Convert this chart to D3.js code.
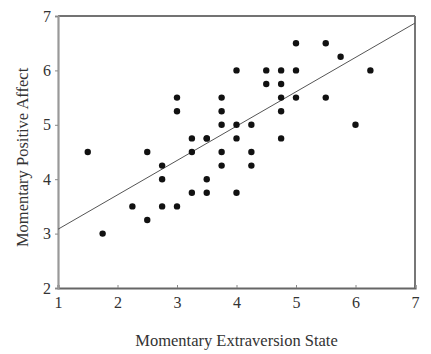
<!DOCTYPE html>
<html>
<head>
<meta charset="utf-8">
<script src="https://cdn.jsdelivr.net/npm/d3@7"></script>
<style>
  body { margin: 0; background: #fff; }
  text { font-family: "Liberation Serif", "DejaVu Serif", serif; fill: #333; }
</style>
</head>
<body>
<div class="chart"></div>
<script>
// extraversion state (x) and positive affect (y), one entry per person
const extraversion = [1.5, 1.75, 2.25, 2.5, 2.5, 2.75, 2.75, 2.75, 3, 3, 3,
  3.25, 3.25, 3.25, 3.5, 3.5, 3.5, 3.5, 3.75, 3.75, 3.75, 3.75, 3.75,
  4, 4, 4, 4, 4.25, 4.25, 4.25, 4.5, 4.5, 4.75, 4.75, 4.75, 4.75, 4.75,
  5, 5, 5, 5.5, 5.5, 5.75, 6, 6.25];
const positiveAffect = [4.5, 3, 3.5, 4.5, 3.25, 4.25, 4, 3.5, 5.5, 5.25, 3.5,
  4.75, 4.5, 3.75, 4.75, 4, 3.75, 4.75, 5.5, 5.25, 5, 4.5, 4.25,
  6, 5, 4.75, 3.75, 5, 4.5, 4.25, 6, 5.75, 6, 5.75, 5.5, 5.25, 4.75,
  6.5, 6, 5.5, 6.5, 5.5, 6.25, 5, 6];
// regression line read at the ends of the x range
const fitX = [1, 7];
const fitY = [3.08, 6.87];
const xTicks = [1, 2, 3, 4, 5, 6, 7];
const yTicks = [2, 3, 4, 5, 6, 7];

const margin = { top: 16, right: 16, bottom: 66, left: 58 };
const w = 431 - margin.left - margin.right;
const h = 354 - margin.top - margin.bottom;

const svg = d3.select(".chart").append("svg")
  .attr("width", 431)
  .attr("height", 354)
  .append("g")
  .attr("transform", "translate(" + margin.left + "," + margin.top + ")");

const x = d3.scaleLinear().domain([1, 7]).range([0, w]);
const y = d3.scaleLinear().domain([2, 7]).range([h, 0]);

// frame: top and right edges
svg.append("line").attr("x1", 0).attr("x2", w).attr("y1", 0).attr("y2", 0)
  .attr("stroke", "#444").attr("stroke-width", 1.3);
svg.append("line").attr("x1", w).attr("x2", w).attr("y1", 0).attr("y2", h)
  .attr("stroke", "#777").attr("stroke-width", 2);

const xAxis = svg.append("g")
  .attr("transform", "translate(0," + h + ")")
  .call(d3.axisBottom(x).tickValues(xTicks).tickFormat(d3.format("d"))
    .tickSize(-3).tickPadding(6));
const yAxis = svg.append("g")
  .call(d3.axisLeft(y).tickValues(yTicks).tickFormat(d3.format("d"))
    .tickSize(3).tickPadding(4));

xAxis.select(".domain").attr("stroke", "#666").attr("stroke-width", 2.2);
yAxis.select(".domain").attr("stroke", "#999").attr("stroke-width", 2.2);
svg.selectAll(".tick line").attr("stroke", "#888");
svg.selectAll(".tick text")
  .attr("fill", "#333")
  .style("font-family", "'Liberation Serif', 'DejaVu Serif', serif")
  .style("font-size", "16px");
xAxis.selectAll(".tick text").attr("dy", "0.85em");

// fitted line
const fit = fitX.map((v, i) => ({ x: v, y: fitY[i] }));
svg.append("path")
  .datum(fit)
  .attr("fill", "none")
  .attr("stroke", "#555")
  .attr("stroke-width", 1)
  .attr("d", d3.line().x(d => x(d.x)).y(d => y(d.y)));

const pts = extraversion.map((v, i) => ({ x: v, y: positiveAffect[i] }));
svg.selectAll(".dot")
  .data(pts)
  .enter().append("circle")
  .attr("class", "dot")
  .attr("cx", d => x(d.x))
  .attr("cy", d => y(d.y))
  .attr("r", 3.2)
  .attr("fill", "#111");

svg.append("text")
  .attr("x", w / 2)
  .attr("y", h + 58)
  .attr("text-anchor", "middle")
  .style("font-size", "16.5px")
  .text("Momentary Extraversion State");

svg.append("text")
  .attr("transform", "translate(" + (-30) + "," + (y(4.4)) + ") rotate(-90)")
  .attr("text-anchor", "middle")
  .style("font-size", "16.5px")
  .text("Momentary Positive Affect");
</script>
</body>
</html>
